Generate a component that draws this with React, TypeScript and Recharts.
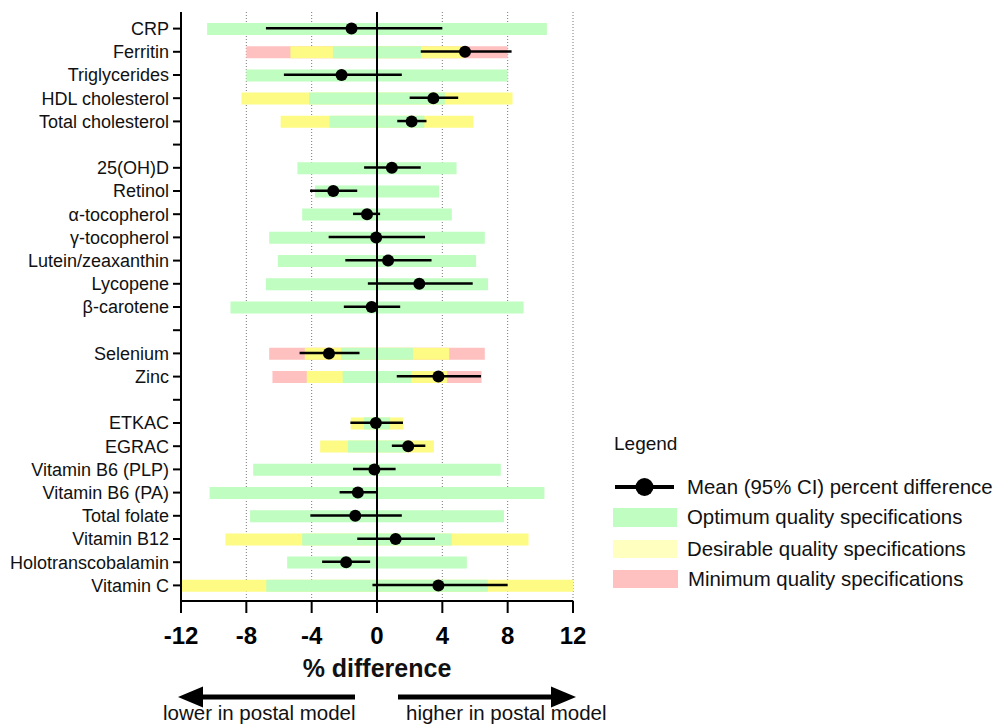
import {
  Bar,
  CartesianGrid,
  ComposedChart,
  Line,
  ReferenceLine,
  XAxis,
  YAxis,
} from "recharts";

const FONT = '"Liberation Sans", Arial, sans-serif';

// blank rows are the gaps between analyte groups
const analytes = [
  "CRP", "Ferritin", "Triglycerides", "HDL cholesterol", "Total cholesterol", " ",
  "25(OH)D", "Retinol", "α-tocopherol", "γ-tocopherol", "Lutein/zeaxanthin", "Lycopene", "β-carotene", "  ",
  "Selenium", "Zinc", "   ",
  "ETKAC", "EGRAC", "Vitamin B6 (PLP)", "Vitamin B6 (PA)", "Total folate", "Vitamin B12", "Holotranscobalamin", "Vitamin C",
];

const meanDiff = [
  -1.56, 5.39, -2.17, 3.45, 2.12, null,
  0.91, -2.68, -0.61, -0.05, 0.68, 2.59, -0.33, null,
  -2.94, 3.76, null,
  -0.07, 1.91, -0.16, -1.17, -1.33, 1.14, -1.89, 3.76,
];
const ciLow = [
  -6.8, 2.68, -5.7, 2.0, 1.24, null,
  -0.79, -4.1, -1.47, -2.96, -1.94, -0.56, -2.03, null,
  -4.74, 1.21, null,
  -1.63, 0.91, -1.47, -2.29, -4.08, -1.21, -3.36, -0.28,
];
const ciHigh = [
  4.0, 8.24, 1.52, 4.97, 3.03, null,
  2.68, -1.21, 0.19, 2.94, 3.34, 5.86, 1.42, null,
  -1.07, 6.37, null,
  1.59, 2.96, 1.14, 0.0, 1.52, 3.55, -0.42, 8.0,
];

// quality specification limits (± % around zero)
const optimumSpec = [
  10.4, 2.7, 8.0, 4.15, 2.9, null,
  4.87, 3.8, 4.58, 6.6, 6.07, 6.8, 8.97, null,
  2.2, 2.1, null,
  0.8, 1.78, 7.58, 10.25, 7.77, 4.58, 5.5, 6.78,
];
const desirableSpec = [
  null, 5.3, null, 8.3, 5.9, null,
  null, null, null, null, null, null, null, null,
  4.42, 4.3, null,
  1.61, 3.48, null, null, null, 9.28, null, 12,
];
const minimumSpec = [
  null, 8.0, null, null, null, null,
  null, null, null, null, null, null, null, null,
  6.6, 6.4, null,
  null, null, null, null, null, null, null, null,
];

const xTicks = [-12, -8, -4, 0, 4, 8, 12];

const GREEN = "#c0fdc0";
const YELLOW = "#fdfb84";
const RED = "#ffc0c0";

const band = (h: number | null) => (h == null ? null : [-h, h]);

const data = analytes.map((name, i) => ({
  name,
  mean: meanDiff[i],
  ci: ciLow[i] == null ? null : [ciLow[i], ciHigh[i]],
  optimum: band(optimumSpec[i]),
  desirable: band(desirableSpec[i]),
  minimum: band(minimumSpec[i]),
}));

const Y_PAD = { top: 5, bottom: 4 };

function Overlay() {
  const txt = { fontFamily: FONT, fill: "#111" };
  return (
    <svg
      width={997}
      height={725}
      style={{ position: "absolute", left: 0, top: 0, pointerEvents: "none" }}
    >
      <text x={377} y={677} textAnchor="middle" fontSize={25} fontWeight="bold" {...txt}>
        % difference
      </text>

      {/* direction arrows */}
      <rect x={200} y={694.5} width={155} height={5} fill="#000" />
      <polygon points="178,697 203,686.5 203,707.5" fill="#000" />
      <rect x={398} y={694.5} width={155} height={5} fill="#000" />
      <polygon points="576,697 551,686.5 551,707.5" fill="#000" />
      <text x={163} y={720} fontSize={20.5} {...txt}>lower in postal model</text>
      <text x={406} y={720} fontSize={20.5} {...txt}>higher in postal model</text>

      {/* legend */}
      <text x={614} y={450} fontSize={19} {...txt}>Legend</text>
      <line x1={615} x2={674} y1={487} y2={487} stroke="#000" strokeWidth={4} />
      <circle cx={644.5} cy={487} r={9} fill="#000" />
      <text x={687} y={487} fontSize={20.4} dominantBaseline="central" {...txt}>
        Mean (95% CI) percent difference
      </text>
      <rect x={613} y={508} width={64} height={19} fill={GREEN} />
      <text x={687} y={517} fontSize={20.4} dominantBaseline="central" {...txt}>
        Optimum quality specifications
      </text>
      <rect x={613} y={540} width={64} height={18} fill="#ffffc0" />
      <text x={687} y={549} fontSize={20.4} dominantBaseline="central" {...txt}>
        Desirable quality specifications
      </text>
      <rect x={613} y={570} width={65} height={18} fill={RED} />
      <text x={688} y={579} fontSize={20.4} dominantBaseline="central" {...txt}>
        Minimum quality specifications
      </text>
    </svg>
  );
}

export default function App() {
  return (
    <div style={{ position: "absolute", left: 0, top: 0, width: 997, height: 725, background: "#fff" }}>
      <ComposedChart
        width={997}
        height={725}
        data={data}
        layout="vertical"
        margin={{ top: 12, right: 424, bottom: 74, left: 0 }}
      >
        <CartesianGrid
          horizontal={false}
          stroke="#777"
          strokeDasharray="1 2"
          strokeWidth={1}
        />
        <XAxis
          type="number"
          domain={[-12, 12]}
          ticks={xTicks}
          height={50}
          axisLine={{ stroke: "#000", strokeWidth: 2 }}
          tickLine={{ stroke: "#000", strokeWidth: 2 }}
          tickSize={12}
          tickMargin={14}
          tick={{ fill: "#000", fontSize: 24, fontWeight: "bold", fontFamily: FONT }}
        />
        <YAxis
          type="category"
          dataKey="name"
          width={181}
          interval={0}
          padding={Y_PAD}
          axisLine={{ stroke: "#000", strokeWidth: 2 }}
          tickLine={{ stroke: "#000", strokeWidth: 2 }}
          tickSize={8}
          tickMargin={4}
          tick={{ fill: "#111", fontSize: 18, fontFamily: FONT }}
        />
        <YAxis yAxisId="min" type="category" dataKey="name" hide padding={Y_PAD} />
        <YAxis yAxisId="des" type="category" dataKey="name" hide padding={Y_PAD} />
        <YAxis yAxisId="opt" type="category" dataKey="name" hide padding={Y_PAD} />
        <YAxis yAxisId="ci" type="category" dataKey="name" hide padding={Y_PAD} />

        <Bar yAxisId="min" dataKey="minimum" fill={RED} barSize={12} isAnimationActive={false} />
        <Bar yAxisId="des" dataKey="desirable" fill={YELLOW} barSize={12} isAnimationActive={false} />
        <Bar yAxisId="opt" dataKey="optimum" fill={GREEN} barSize={12} isAnimationActive={false} />
        <ReferenceLine x={0} stroke="#000" strokeWidth={2} />
        <Bar yAxisId="ci" dataKey="ci" fill="#000" barSize={2.5} isAnimationActive={false} />
        <Line
          dataKey="mean"
          stroke="none"
          dot={{ r: 6, fill: "#000", stroke: "none" }}
          activeDot={false}
          isAnimationActive={false}
        />
      </ComposedChart>
      <Overlay />
    </div>
  );
}
